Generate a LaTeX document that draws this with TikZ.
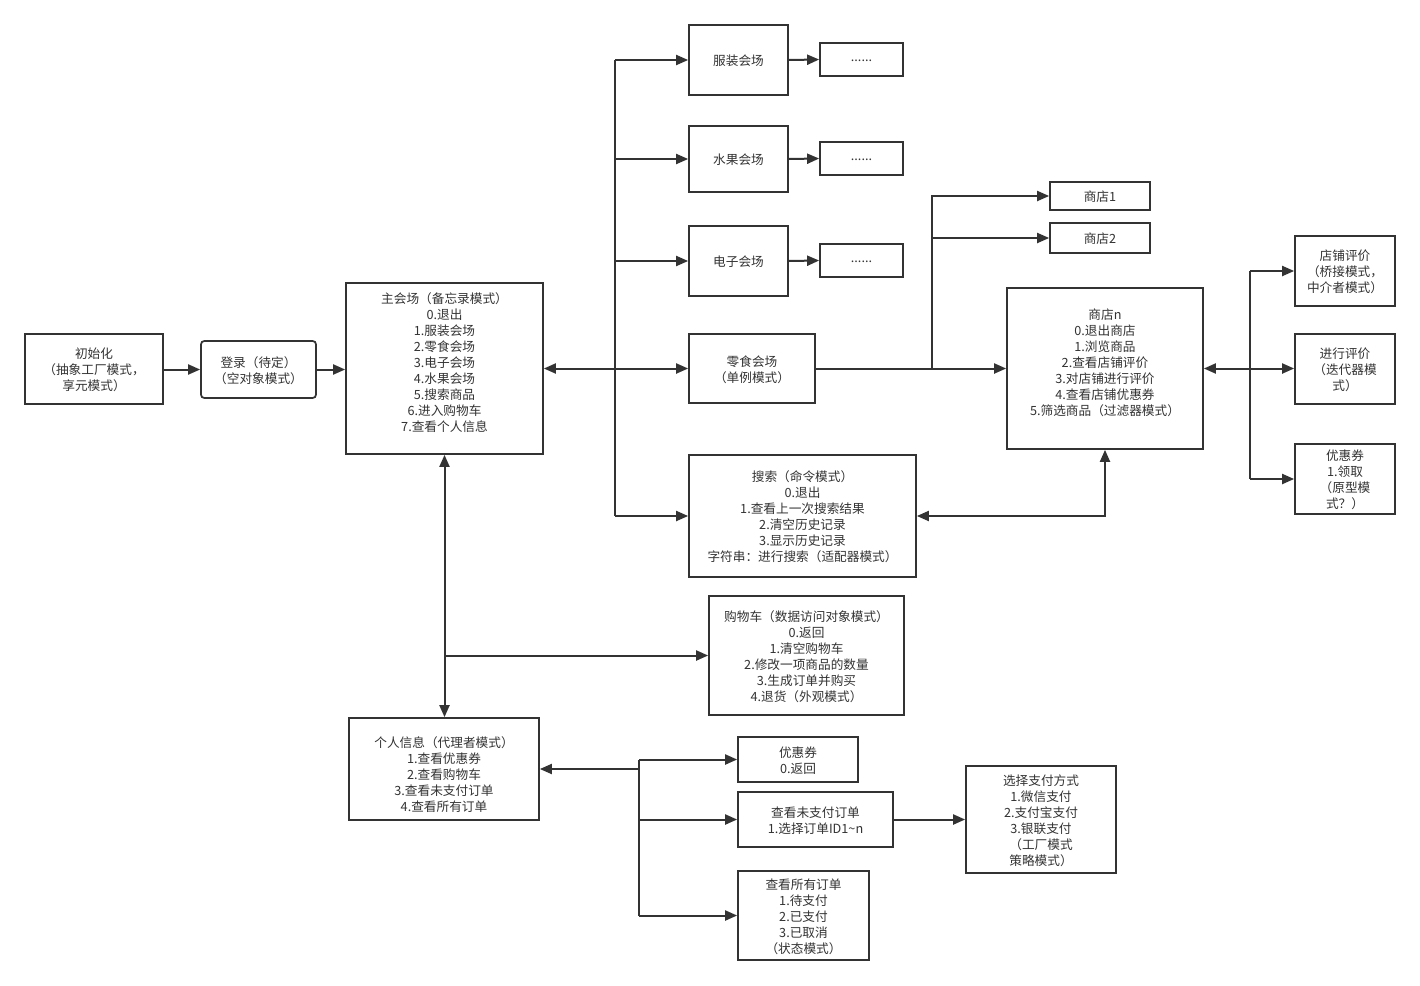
\documentclass[tikz,border=0pt]{standalone}
\usepackage{fontspec}
\setmainfont{Noto Sans CJK SC}
\usetikzlibrary{fit,arrows.meta}
\definecolor{ln}{HTML}{333333}
\definecolor{tx}{HTML}{333333}
\tikzset{
  box/.style={draw=ln, line width=1.3pt, inner sep=0pt},
  rbox/.style={box, rounded corners=2.5pt},
  lbl/.style={align=center, text=tx, inner sep=0pt, yshift=-0.8pt,
    font=\fontsize{9.5pt}{12pt}\selectfont},
  conn/.style={draw=ln, line width=1.5pt},
  arr/.style={conn, -{Triangle[length=9pt,width=7.5pt]}},
  darr/.style={conn, {Triangle[length=9pt,width=7.5pt]}-{Triangle[length=9pt,width=7.5pt]}},
}
\begin{document}
\begin{tikzpicture}[x=0.75pt,y=-0.75pt]
\useasboundingbox[fill=white] (0,0) rectangle (1420,985);
% nodes
\node[box, fit={(25,334) (163,404)}, label={[lbl]center:{初始化\\（抽象工厂模式，\\享元模式）}}] (init) {};
\node[rbox, fit={(201,341) (316,398)}, label={[lbl]center:{登录（待定）\\（空对象模式）}}] (login) {};
\node[box, fit={(346,283) (543,454)}, label={[lbl,yshift=5.3pt]center:{主会场（备忘录模式）\\0.退出\\1.服装会场\\2.零食会场\\3.电子会场\\4.水果会场\\5.搜索商品\\6.进入购物车\\7.查看个人信息}}] (main) {};
\node[box, fit={(689,25) (788,95)}, label={[lbl]center:{服装会场}}] (cloth) {};
\node[box, fit={(689,126) (788,192)}, label={[lbl]center:{水果会场}}] (fruit) {};
\node[box, fit={(689,226) (788,296)}, label={[lbl]center:{电子会场}}] (elec) {};
\node[box, fit={(820,43) (903,76)}, label={[lbl]center:{......}}] (d1) {};
\node[box, fit={(820,142) (903,175)}, label={[lbl]center:{......}}] (d2) {};
\node[box, fit={(820,244) (903,277)}, label={[lbl]center:{......}}] (d3) {};
\node[box, fit={(689,334) (815,403)}, label={[lbl]center:{零食会场\\（单例模式）}}] (snack) {};
\node[box, fit={(689,455) (916,577)}, label={[lbl]center:{搜索（命令模式）\\0.退出\\1.查看上一次搜索结果\\2.清空历史记录\\3.显示历史记录\\字符串：进行搜索（适配器模式）}}] (search) {};
\node[box, fit={(1050,182) (1150,210)}, label={[lbl]center:{商店1}}] (shop1) {};
\node[box, fit={(1050,223) (1150,253)}, label={[lbl]center:{商店2}}] (shop2) {};
\node[box, fit={(1007,288) (1203,449)}, label={[lbl,yshift=5.3pt]center:{商店n\\0.退出商店\\1.浏览商品\\2.查看店铺评价\\3.对店铺进行评价\\4.查看店铺优惠券\\5.筛选商品（过滤器模式）}}] (shopn) {};
\node[box, fit={(1295,236) (1395,306)}, label={[lbl]center:{店铺评价\\（桥接模式，\\中介者模式）}}] (rate) {};
\node[box, fit={(1295,334) (1395,404)}, label={[lbl]center:{进行评价\\（迭代器模\\式）}}] (eval) {};
\node[box, fit={(1295,444) (1395,514)}, label={[lbl]center:{优惠券\\1.领取\\（原型模\\式？）}}] (coupon) {};
\node[box, fit={(709,596) (904,715)}, label={[lbl]center:{购物车（数据访问对象模式）\\0.返回\\1.清空购物车\\2.修改一项商品的数量\\3.生成订单并购买\\4.退货（外观模式）}}] (cart) {};
\node[box, fit={(349,718) (539,820)}, label={[lbl,yshift=-3.2pt]center:{个人信息（代理者模式）\\1.查看优惠券\\2.查看购物车\\3.查看未支付订单\\4.查看所有订单}}] (person) {};
\node[box, fit={(738,737) (858,782)}, label={[lbl]center:{优惠券\\0.返回}}] (pcoupon) {};
\node[box, fit={(738,792) (893,847)}, label={[lbl]center:{查看未支付订单\\1.选择订单ID1\char`~n}}] (unpaid) {};
\node[box, fit={(738,871) (869,960)}, label={[lbl]center:{查看所有订单\\1.待支付\\2.已支付\\3.已取消\\（状态模式）}}] (allord) {};
\node[box, fit={(966,766) (1116,873)}, label={[lbl]center:{选择支付方式\\1.微信支付\\2.支付宝支付\\3.银联支付\\（工厂模式\\策略模式）}}] (pay) {};
% bus coordinates
\coordinate (bus) at (615,0);
\coordinate (sb) at (932,0);
\coordinate (rb) at (1250,0);
\coordinate (pb) at (639,0);
% connectors
\draw[arr] (init.east |- login.west) -- (login.west);
\draw[arr] (login.east) -- (login.east -| main.west);
\draw[darr] (main.east) -- (main.east -| snack.west);
\draw[conn] (cloth.west -| bus) -- (search.west -| bus);
\draw[arr] (cloth.west -| bus) -- (cloth.west);
\draw[arr] (fruit.west -| bus) -- (fruit.west);
\draw[arr] (elec.west -| bus) -- (elec.west);
\draw[arr] (search.west -| bus) -- (search.west);
\draw[arr] (cloth.east) -- (d1.west);
\draw[arr] (fruit.east) -- (d2.west);
\draw[arr] (elec.east) -- (d3.west);
\draw[arr] (snack.east) -- (snack.east -| shopn.west);
\draw[arr] (snack.east -| sb) |- (shop1.west);
\draw[arr] (snack.east -| sb) |- (shop2.west);
\draw[darr] (search.east) -| (shopn.south);
\draw[darr] (shopn.east) -- (shopn.east -| eval.west);
\draw[conn] (rate.west -| rb) -- (coupon.west -| rb);
\draw[arr] (rate.west -| rb) -- (rate.west);
\draw[arr] (coupon.west -| rb) -- (coupon.west);
\draw[darr] (main.south) -- (main.south |- person.north);
\draw[arr] (main.south |- cart.west) -- (cart.west);
\draw[arr] (person.east -| pb) -- (person.east);
\draw[conn] (pcoupon.west -| pb) -- (allord.west -| pb);
\draw[arr] (pcoupon.west -| pb) -- (pcoupon.west);
\draw[arr] (unpaid.west -| pb) -- (unpaid.west);
\draw[arr] (allord.west -| pb) -- (allord.west);
\draw[arr] (unpaid.east) -- (unpaid.east -| pay.west);
\end{tikzpicture}
\end{document}
